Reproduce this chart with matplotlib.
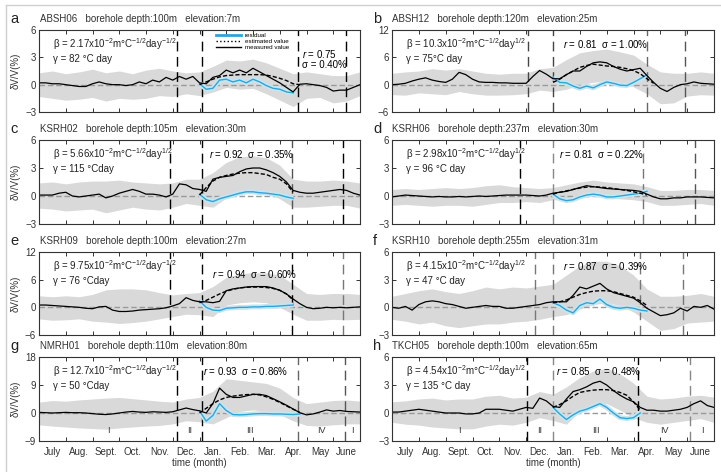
import numpy as np
import matplotlib.pyplot as plt
from matplotlib.lines import Line2D

plt.rcParams['font.family'] = ['Liberation Sans', 'DejaVu Sans']
plt.rcParams['mathtext.fontset'] = 'custom'
plt.rcParams['mathtext.rm'] = 'Liberation Sans'
plt.rcParams['mathtext.it'] = 'Liberation Sans:italic'
plt.rcParams['mathtext.bf'] = 'Liberation Sans:bold'

# month names, first of July to end of June
months = ['July', 'Aug.', 'Sept.', 'Oct.', 'Nov.', 'Dec.',
          'Jan.', 'Feb.', 'Mar.', 'Apr.', 'May', 'June']
seasons = ['I', 'II', 'III', 'IV', 'I']

# measured dV/V (%), every quarter month from July 1
a_meas = [0.2, 0.2, 0.1, 0.1, 0.0, -0.1, -0.2, -0.2, 0.1, 0.3, 0.1, 0.0, 0.0, -0.1, 0.0, 0.3,
          0.1, 0.5, 0.3, 0.8, 0.5, 0.9, 0.6, 0.9, 0.2, 0.1, 0.8, 1.0, 1.6, 1.3, 1.6, 1.3,
          1.8, 1.4, 1.0, 0.6, 0.2, -0.3, -0.8, 0.05, 0.1, 0.0, -0.1, -0.3, -0.7, -0.6, -0.6, -0.3, 0.0]
b_meas = [0.0, 0.1, 0.3, 0.8, 1.2, 1.5, 1.0, 0.7, 0.5, 1.2, 2.7, 2.2, 1.2, 0.6, 0.5, 0.5,
          0.4, 0.4, 0.3, 0.3, 0.3, 1.8, 3.1, 2.3, 1.3, 1.3, 2.2, 3.0, 3.0, 4.0, 4.8, 5.0,
          4.8, 4.0, 3.4, 3.0, 3.3, 3.6, 2.0, 0.5, -0.8, -1.5, -0.6, 0.0, 0.2, 0.6, 0.3, 0.2, 0.1]
c_meas = [0.1, 0.1, 0.1, 0.3, 0.4, 0.0, -0.1, 0.0, 0.1, 0.2, -0.2, 0.0, 0.3, 0.5, 0.7, 0.5,
          0.2, 0.2, 0.1, -0.1, 0.2, 1.3, 1.2, 0.8, 0.7, 0.5, 1.8, 2.0, 2.1, 2.2, 2.6, 2.9,
          3.0, 3.0, 2.8, 2.5, 2.1, 1.5, 0.6, 0.4, 0.3, 0.3, 0.4, 0.5, 0.6, 0.7, 0.6, 0.3, 0.1]
d_meas = [-0.1, 0.0, 0.1, 0.05, 0.0, -0.05, -0.1, -0.05, -0.1, -0.1, -0.05, -0.1, -0.05, 0.0, -0.05, 0.0,
          0.05, 0.1, 0.1, 0.1, 0.1, 0.05, 0.0, 0.1, 0.3, 0.4, 0.5, 0.7, 0.9, 1.1, 1.0, 0.9,
          0.8, 0.75, 0.7, 0.65, 0.6, 0.5, 0.2, -0.1, -0.3, -0.3, -0.2, -0.2, -0.1, -0.1, -0.1, -0.15, -0.2]
e_meas = [0.5, 0.5, 0.4, 0.3, 0.2, 0.1, 0.0, -0.2, -0.3, 0.1, 0.2, -0.6, -0.9, -0.9, -0.8, -0.6,
          -0.5, -0.4, -0.3, -0.1, 0.3, 0.8, 2.1, 1.5, 1.2, 1.2, 1.0, 1.3, 3.6, 4.0, 4.2, 4.4,
          4.5, 4.5, 4.5, 4.2, 3.7, 2.9, 1.8, 0.8, 0.0, -0.3, -0.2, 0.0, -0.1, 0.0, -0.1, 0.0, 0.1]
f_meas = [0.0, -0.1, 0.1, -0.3, 0.3, 0.6, 0.7, 0.6, 0.4, 0.3, 0.1, -0.1, 0.0, 0.1, 0.2, 0.1,
          0.1, -0.1, -0.1, 0.0, 0.1, 0.2, 0.3, 0.5, 0.6, 0.6, 0.6, 1.3, 2.2, 2.0, 2.3, 2.6,
          2.0, 1.6, 1.4, 1.2, 1.0, 0.5, -0.1, -0.5, -0.9, -0.8, -0.6, -0.1, -0.4, 0.1, 0.0, 0.2, -0.2]
g_meas = [0.2, 0.1, 0.0, 0.1, 0.2, 0.1, 0.1, 0.0, -0.2, -0.4, -0.5, -0.3, 0.0, 0.3, 0.5, 0.3,
          0.2, 0.4, 0.3, 0.2, 0.4, 1.0, 1.6, 1.1, 0.7, 0.0, 3.0, 8.0, 6.0, 5.0, 5.0, 5.5,
          6.0, 6.0, 5.6, 4.6, 3.6, 2.5, 1.3, 0.1, -0.6, -0.3, 0.3, 1.0, 0.6, 0.8, 0.5, 0.4, 0.3]
h_meas = [0.1, 0.1, 0.2, 0.3, 0.4, 0.3, 0.2, 0.1, 0.0, 0.0, 0.0, -0.1, -0.1, 0.0, 0.4, 0.4,
          0.4, 0.3, 0.2, 0.4, 0.6, 0.5, 1.6, 1.3, 0.7, 0.6, 1.5, 2.3, 2.5, 2.8, 3.2, 3.4,
          3.0, 2.4, 1.9, 1.5, 1.2, 0.6, 0.3, 0.3, 0.2, 0.2, 0.3, 0.4, 0.6, 1.0, 1.3, 0.8, 0.6]

# estimated value and residual, every quarter month from Jan. 1
a_est = [0.0, 0.3, 0.6, 0.85, 1.0, 1.05, 1.1, 1.1, 1.1, 1.1, 1.05, 0.9, 0.7, 0.45, 0.1, 0.0]
a_res = [0.1, -0.5, -0.4, 0.5, 0.6, 0.3, 0.5, 0.2, 0.6, 0.3, -0.1, -0.4, -0.5, -0.8, -0.9]
b_est = [0.5, 1.2, 2.2, 3.0, 3.8, 4.2, 4.5, 4.3, 4.1, 4.0, 3.8, 3.5, 3.1, 2.4, 1.3, 0.3]
b_res = [1.6, 0.5, 0.4, -0.3, -0.8, -0.3, -0.7, 0.0, 0.6, 0.3, -0.1, -0.2, 0.5, 1.3, 2.2]
c_est = [0.1, 0.9, 1.6, 2.0, 2.2, 2.35, 2.45, 2.5, 2.5, 2.4, 2.3, 2.0, 1.8, 1.3, 0.4]
c_res = [0.2, -0.4, -0.6, -0.3, -0.1, 0.1, 0.3, 0.45, 0.45, 0.35, 0.3, 0.2, 0.1, -0.1, -0.25]
d_est = [0.2, 0.4, 0.55, 0.7, 0.85, 0.95, 1.0, 0.95, 0.9, 0.8, 0.7, 0.6, 0.45, 0.3, 0.1]
d_res = [0.2, -0.3, -0.5, -0.4, -0.1, 0.1, 0.2, 0.1, -0.1, -0.1, 0.0, 0.1, 0.2, 0.3, 0.5]
e_est = [1.0, 1.5, 2.2, 2.9, 3.5, 3.9, 4.2, 4.35, 4.4, 4.4, 4.3, 4.1, 3.7, 2.9, 1.6]
e_res = [1.4, 0.0, -0.6, -0.7, -0.2, -0.1, 0.0, 0.0, 0.1, 0.1, 0.2, 0.2, 0.3, 0.4, 0.5]
f_est = [0.5, 0.6, 0.8, 1.1, 1.4, 1.6, 1.75, 1.8, 1.8, 1.7, 1.5, 1.3, 1.1, 0.7, 0.2]
f_res = [0.5, 0.2, -0.3, -0.6, 0.2, 0.5, 0.4, 0.9, 0.3, 0.0, -0.1, 0.0, -0.1, -0.3, -0.4]
g_est = [0.0, 1.5, 3.0, 4.2, 5.0, 5.4, 5.7, 5.9, 6.0, 5.8, 5.2, 4.4, 3.4, 2.3, 1.2, 0.2]
g_res = [0.7, -2.6, -0.8, 3.0, 0.8, -0.5, -0.6, -0.5, -0.3, -0.2, -0.2, -0.3, -0.3, -0.4, -0.5, -0.3]
h_est = [0.6, 0.9, 1.3, 1.8, 2.2, 2.35, 2.45, 2.5, 2.5, 2.4, 2.2, 1.9, 1.2, 0.3]
h_res = [0.6, -0.1, -0.7, -0.2, 0.2, 0.4, 0.7, 1.0, 0.6, 0.0, -0.5, -0.6, -0.5, 0.0]

# uncertainty band, every half month from July 1
a_hi = [1.3, 1.5, 1.2, 1.4, 1.7, 1.3, 1.5, 1.2, 1.6, 1.8, 1.5, 1.3, 1.4, 2.0, 2.7, 2.6, 2.8, 2.4, 1.8, 1.2, 1.4, 1.2, 1.0, 1.0, 1.4]
a_lo = [-1.3, -1.5, -1.7, -1.6, -1.4, -1.8, -1.5, -1.6, -1.5, -1.2, -1.3, -1.0, -1.2, -0.8, -0.3, -0.5, -0.4, -1.0, -1.7, -2.4, -1.5, -1.4, -2.0, -1.8, -1.2]
b_hi = [2.5, 2.8, 3.0, 3.5, 3.2, 3.5, 3.0, 2.5, 2.3, 2.5, 2.5, 3.5, 3.8, 5.5, 7.0, 7.5, 7.8, 7.2, 6.5, 4.5, 2.8, 2.5, 2.5, 2.8, 2.5]
b_lo = [-2.2, -2.3, -1.8, -2.0, -2.2, -1.5, -2.0, -2.3, -2.3, -2.2, -2.0, -1.2, -1.5, -1.0, 0.0, 0.5, 1.0, 0.5, -0.5, -2.0, -4.2, -4.0, -2.5, -2.2, -2.3]
c_hi = [1.4, 1.5, 1.3, 1.5, 1.6, 1.6, 1.7, 1.5, 1.4, 1.3, 1.4, 1.8, 1.8, 2.5, 3.6, 4.2, 4.3, 4.1, 3.3, 1.8, 1.6, 1.6, 1.7, 1.6, 1.4]
c_lo = [-1.3, -1.4, -1.6, -1.5, -1.4, -1.8, -1.5, -1.2, -1.4, -1.5, -1.2, -0.8, -1.0, -1.2, -0.2, 0.3, 0.6, 0.4, -0.3, -1.2, -1.2, -1.1, -1.0, -1.0, -1.3]
d_hi = [0.7, 0.8, 0.7, 0.8, 0.9, 0.8, 0.9, 1.1, 1.2, 1.0, 0.9, 0.8, 0.9, 1.2, 1.5, 1.7, 1.5, 1.4, 1.3, 1.0, 0.6, 0.6, 0.7, 0.7, 0.6]
d_lo = [-1.0, -0.9, -1.0, -1.1, -1.0, -1.0, -1.1, -0.9, -0.7, -0.7, -0.6, -0.7, -0.4, -0.4, -0.2, 0.0, -0.2, -0.3, -0.4, -0.6, -1.0, -1.0, -0.9, -0.8, -1.0]
e_hi = [2.5, 2.3, 2.5, 2.3, 2.8, 3.8, 4.0, 4.0, 3.8, 3.2, 2.7, 3.0, 3.2, 4.5, 6.5, 7.3, 7.5, 7.5, 7.0, 5.0, 3.0, 2.8, 3.0, 3.0, 2.8]
e_lo = [-2.5, -2.8, -2.7, -2.5, -3.0, -3.2, -3.5, -3.3, -3.0, -2.5, -2.0, -1.5, -1.6, -2.0, 0.5, 1.0, 1.2, 1.0, 0.0, -1.5, -2.8, -2.8, -2.6, -2.7, -2.6]
f_hi = [1.2, 1.5, 1.8, 2.0, 1.7, 1.5, 1.8, 2.2, 2.0, 2.2, 2.1, 2.3, 2.5, 3.5, 4.5, 5.0, 5.0, 4.5, 3.5, 2.0, 1.2, 1.2, 1.3, 1.5, 1.2]
f_lo = [-1.3, -1.5, -1.8, -1.6, -2.0, -2.2, -2.0, -1.8, -1.8, -1.6, -1.5, -1.3, -1.0, -0.8, -0.2, 0.3, 0.5, 0.2, -0.5, -1.5, -2.5, -2.3, -1.7, -1.6, -1.5]
g_hi = [3.5, 4.0, 3.8, 4.2, 4.5, 4.8, 5.0, 4.6, 4.2, 3.8, 3.5, 4.5, 5.0, 7.0, 11.0, 10.5, 10.0, 9.5, 8.0, 5.0, 3.0, 3.5, 4.0, 4.2, 3.8]
g_lo = [-3.8, -4.2, -4.5, -4.8, -5.0, -5.2, -4.8, -4.5, -4.2, -4.0, -3.5, -2.5, -2.8, -3.5, -1.5, 0.5, 1.0, 0.5, -0.5, -2.5, -4.0, -4.2, -3.8, -3.5, -3.5]
h_hi = [1.2, 1.3, 1.5, 1.6, 1.4, 1.5, 1.5, 1.8, 1.9, 1.6, 1.7, 2.3, 2.0, 2.8, 3.8, 4.5, 4.8, 4.2, 3.2, 1.8, 1.5, 1.6, 1.8, 1.9, 1.7]
h_lo = [-1.0, -1.2, -1.3, -1.5, -1.6, -1.7, -1.7, -1.4, -1.2, -1.3, -1.0, -0.5, -0.8, -1.2, 0.2, 1.0, 1.0, 0.3, -0.5, -1.0, -1.2, -1.0, -0.8, -0.6, -1.0]

# season boundaries (months after July 1)
a_bounds = [5.16, 6.08, 9.68, 11.47]
b_bounds = [5.07, 6.0, 9.5, 10.93]
c_bounds = [4.9, 6.08, 9.45, 11.38]
d_bounds = [4.78, 6.0, 9.37, 11.3]
e_bounds = [4.9, 6.08, 9.45, 11.38]
f_bounds = [5.34, 6.0, 9.25, 10.86]
g_bounds = [5.16, 6.08, 9.68, 11.44]
h_bounds = [5.03, 6.0, 9.18, 11.1]

panels = [
    dict(tag='a', name='ABSH06', depth='100m', elev='7m', meas=a_meas, est=a_est, res=a_res, hi=a_hi, lo=a_lo,
         bounds=a_bounds, ylim=(-3, 6), beta='2.17', bexp='-1/2', gamma='82 °C day', r='0.75', s='0.40%'),
    dict(tag='b', name='ABSH12', depth='120m', elev='25m', meas=b_meas, est=b_est, res=b_res, hi=b_hi, lo=b_lo,
         bounds=b_bounds, ylim=(-6, 12), beta='10.3', bexp='1/2', gamma='75°C day', r='0.81', s='1.00%'),
    dict(tag='c', name='KSRH02', depth='105m', elev='30m', meas=c_meas, est=c_est, res=c_res, hi=c_hi, lo=c_lo,
         bounds=c_bounds, ylim=(-3, 6), beta='5.66', bexp='1/2', gamma='115 °Cday', r='0.92', s='0.35%'),
    dict(tag='d', name='KSRH06', depth='237m', elev='30m', meas=d_meas, est=d_est, res=d_res, hi=d_hi, lo=d_lo,
         bounds=d_bounds, ylim=(-3, 6), beta='2.98', bexp='1/2', gamma='96 °C day', r='0.81', s='0.22%'),
    dict(tag='e', name='KSRH09', depth='100m', elev='27m', meas=e_meas, est=e_est, res=e_res, hi=e_hi, lo=e_lo,
         bounds=e_bounds, ylim=(-6, 12), beta='9.75', bexp='-1/2', gamma='76 °Cday', r='0.94', s='0.60%'),
    dict(tag='f', name='KSRH10', depth='255m', elev='31m', meas=f_meas, est=f_est, res=f_res, hi=f_hi, lo=f_lo,
         bounds=f_bounds, ylim=(-3, 6), beta='4.15', bexp='1/2', gamma='47 °C day', r='0.87', s='0.39%'),
    dict(tag='g', name='NMRH01', depth='110m', elev='80m', meas=g_meas, est=g_est, res=g_res, hi=g_hi, lo=g_lo,
         bounds=g_bounds, ylim=(-9, 18), beta='12.7', bexp='-1/2', gamma='50 °Cday', r='0.93', s='0.86%'),
    dict(tag='h', name='TKCH05', depth='100m', elev='65m', meas=h_meas, est=h_est, res=h_res, hi=h_hi, lo=h_lo,
         bounds=h_bounds, ylim=(-3, 6), beta='4.54', bexp='1/2', gamma='135 °C day', r='0.85', s='0.48%'),
]

# colours of the four dashed boundary lines in each panel
bound_cols = {'a': ['k', 'k', 'k', 'k'], 'b': ['#444', '#444', '#666', '#555'],
              'c': ['k', 'k', '#555', 'k'], 'd': ['k', '#888', '#777', '#555'],
              'e': ['k', 'k', 'k', '#777'], 'f': ['#777', '#777', '#777', '#777'],
              'g': ['k', 'k', '#666', '#555'], 'h': ['k', '#888', 'k', '#888']}

W, H = 721, 472
fig = plt.figure(figsize=(W / 100, H / 100), dpi=100)

col_x = [39, 392]
col_w = [321, 322]
row_top = [30, 140, 252, 357]
row_bot = [112, 224, 335, 441]

xq = np.arange(49) * 0.25
xh = np.arange(25) * 0.5

for i, p in enumerate(panels):
    row, col = i // 2, i % 2
    ax = fig.add_axes([col_x[col] / W, 1 - row_bot[row] / H, col_w[col] / W,
                       (row_bot[row] - row_top[row]) / H])

    ax.fill_between(xh, p['lo'], p['hi'], color='#d9d9d9', lw=0)
    ax.axhline(0, color='#9a9a9a', ls=(0, (4, 2)), lw=1.0)
    for xb, c in zip(p['bounds'], bound_cols[p['tag']]):
        ax.axvline(xb, color=c, ls=(0, (7, 4)), lw=1.0)

    xw = 6 + np.arange(len(p['res'])) * 0.25
    ax.plot(xw, p['res'], color='#c4e6f2', lw=3.5, solid_capstyle='butt')
    ax.plot(xw, p['res'], color='#2fa4d6', lw=1.0)
    xe = 6 + np.arange(len(p['est'])) * 0.25
    ax.plot(xe, p['est'], color='k', ls=(0, (3, 1.5)), lw=1.0)
    ax.plot(xq, p['meas'], color='k', lw=0.9)

    lo, hi = p['ylim']
    ax.set_xlim(0, 12)
    ax.set_ylim(lo, hi)
    ax.set_yticks([lo, 0, hi / 2, hi] if hi != 6 else [lo, 0, 3, 6])
    ax.set_xticks(np.arange(13))
    ax.set_xticklabels([])
    ax.set_xticks(np.arange(12) + 0.5, minor=True)
    ax.tick_params(direction='in', length=3, width=0.7, top=True, right=True,
                   labelsize=7, colors='#333', pad=2)
    ax.tick_params(axis='x', which='minor', length=0)
    for sp in ax.spines.values():
        sp.set_color('#333')
        sp.set_linewidth(0.8)

    if row == 3:
        ax.set_xticklabels(months, minor=True, fontsize=7, color='#333')
        ax.tick_params(axis='x', which='minor', pad=4)
        ax.set_xlabel('time (month)', fontsize=7, color='#333', labelpad=1)
        b = p['bounds']
        mids = [b[0] / 2, (b[0] + b[1]) / 2, (b[1] + b[2]) / 2, (b[2] + b[3]) / 2, (b[3] + 12) / 2]
        for xm, s in zip(mids, seasons):
            ax.text(xm, 0.13, s, fontsize=6.5, color='#333', ha='center', va='center',
                    transform=ax.get_xaxis_transform())
    if col == 0:
        ax.set_ylabel('δV/V(%)', fontsize=7, color='#333', labelpad=3)

    # title and panel letter
    lx = -0.09 if col == 0 else -0.058
    ax.text(lx, 1.13, p['tag'], transform=ax.transAxes, fontsize=10.5, color='#222', va='center')
    tx = 0.003 if col == 0 else 0.0
    ax.text(tx, 1.13, f"{p['name']}   borehole depth:{p['depth']}   elevation:{p['elev']}",
            transform=ax.transAxes, fontsize=7, color='#333', va='center')

    ax.text(0.045, 0.83, f"β = {p['beta']}x10$^{{-2}}$m°C$^{{-1/2}}$day$^{{{p['bexp']}}}$",
            transform=ax.transAxes, fontsize=7, color='#222', va='center')
    ax.text(0.045, 0.65, f"γ = {p['gamma']}", transform=ax.transAxes, fontsize=7,
            color='#222', va='center')
    if p['tag'] == 'a':
        ax.text(0.82, 0.71, f"$r$ = {p['r']}", transform=ax.transAxes, fontsize=7, va='center')
        ax.text(0.82, 0.57, f"σ = {p['s']}", transform=ax.transAxes, fontsize=7, va='center')
        handles = [Line2D([], [], color='#2fa4d6', lw=2),
                   Line2D([], [], color='k', ls=':', lw=1),
                   Line2D([], [], color='k', lw=1)]
        ax.legend(handles, ['residual', 'estimated value', 'measured value'], fontsize=4.5,
                  frameon=False, loc='upper left', bbox_to_anchor=(0.535, 1.04),
                  handlelength=4, labelspacing=0.15, handletextpad=0.6)
    else:
        rx = {'b': 0.53, 'c': 0.53, 'd': 0.52, 'e': 0.54, 'f': 0.53, 'g': 0.51, 'h': 0.51}[p['tag']]
        ry = 0.74 if p['tag'] == 'e' else 0.83
        ax.text(rx, ry, f"$r$ = {p['r']}  σ = {p['s']}", transform=ax.transAxes,
                fontsize=7, va='center')

# page frame of the original figure
fig.add_artist(Line2D([6 / W, 6 / W], [0, 1 - 5 / H], color='#d0d0d0', lw=1))
fig.add_artist(Line2D([6 / W, 1], [1 - 5 / H, 1 - 5 / H], color='#d0d0d0', lw=1))

fig.savefig('out.png', dpi=100)
